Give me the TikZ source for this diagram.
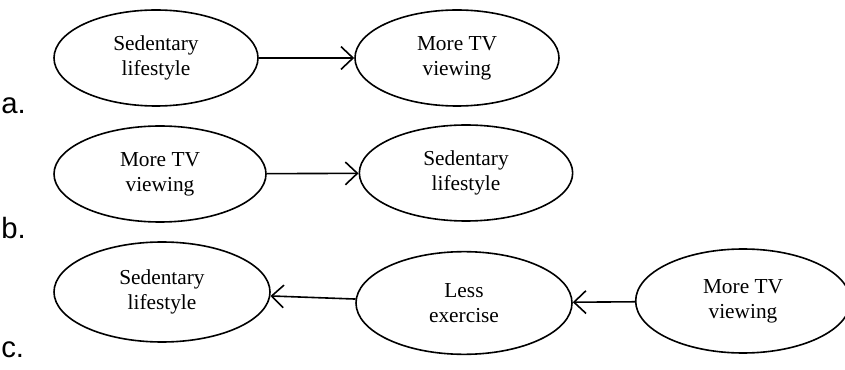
\documentclass[tikz,border=0pt]{standalone}
\usepackage{fontspec}
\setmainfont{Liberation Serif}
\newfontfamily\tagfont{Liberation Sans}
\usetikzlibrary{shapes, arrows.meta, positioning}

\begin{document}
\begin{tikzpicture}[x=0.75pt, y=-0.75pt,
        oval/.style={draw, ellipse, line width=1.2pt, inner sep=0pt, align=center,
            font=\fontsize{16}{19}\selectfont},
        tag/.style={anchor=west, inner sep=0pt, font=\tagfont\fontsize{22}{22}\selectfont},
        arr/.style={-{Straight Barb[length=9pt,width=17pt]}, line width=1.2pt}]
        \useasboundingbox (0,0) rectangle (845,370);

        % a.
        \node[oval, minimum width=153pt, minimum height=72pt] (a1) at (156,58) {Sedentary\\lifestyle};
        \node[oval, minimum width=153pt, minimum height=72pt] (a2) at (457,58) {More TV\\viewing};
        \node[tag] (la) at (1,106) {a.};
        \draw[arr] (a1) -- (a2);

        % b.
        \node[oval, minimum width=159pt, minimum height=72pt] (b1) at (160,174) {More TV\\viewing};
        \node[oval, minimum width=160pt, minimum height=72pt] (b2) at (466,173) {Sedentary\\lifestyle};
        \node[tag] (lb) at (1,228) {b.};
        \draw[arr] (b1) -- (b2);

        % c.
        \node[oval, minimum width=162pt, minimum height=75pt] (c1) at (162,292) {Sedentary\\lifestyle};
        \node[oval, minimum width=162pt, minimum height=77pt] (c2) at (464,303) {Less\\exercise};
        \node[oval, minimum width=161pt, minimum height=78pt] (c3) at (743,301) {More TV\\viewing};
        \node[tag] (lc) at (1,350) {c.};
        \draw[arr] (c2) -- (c1);
        \draw[arr] (c3) -- (c2);
    \end{tikzpicture}
\end{document}
